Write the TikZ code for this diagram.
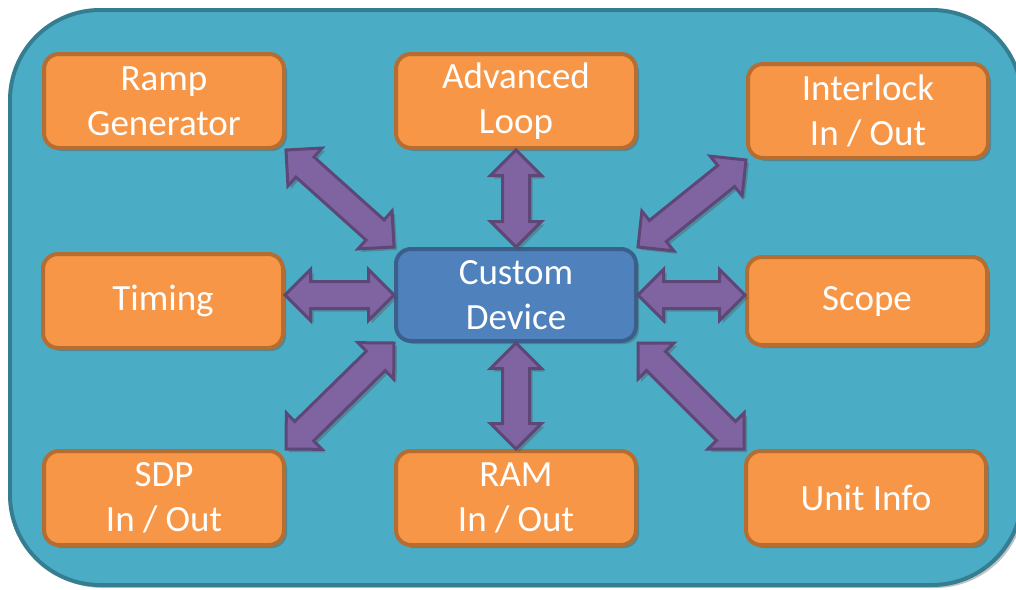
\documentclass[tikz,border=0pt]{standalone}
\usepackage{fontspec}
\setmainfont{Carlito}
\usetikzlibrary{shapes.arrows,shadows,calc}
\definecolor{panel}{HTML}{4BACC6}
\definecolor{panelline}{HTML}{357D91}
\definecolor{boxfill}{HTML}{F79646}
\definecolor{boxline}{HTML}{B66D31}
\definecolor{cdfill}{HTML}{4F81BD}
\definecolor{cdline}{HTML}{3A5F8B}
\definecolor{arrowfill}{HTML}{8064A2}
\definecolor{arrowline}{HTML}{5C4776}
\newcommand{\linkarrow}[2]{%
  \path let \p1=(#1), \p2=(#2),
        \n1={veclen(\x2-\x1,\y2-\y1)}, \n2={atan2(\y2-\y1,\x2-\x1)} in
        node[link, minimum height=\n1, rotate=\n2] at ($(#1)!0.5!(#2)$) {};}

\begin{document}
\begin{tikzpicture}[x=1pt, y=-1pt,
 soft/.style = {drop shadow={shadow xshift=3pt, shadow yshift=-3pt,
      opacity=0.35, fill=black!70}},
 box/.style = {rectangle, rounded corners=15pt, draw=boxline, fill=boxfill,
      line width=4pt, text=white, align=center, soft,
      minimum width=240pt, minimum height=94pt,
      font=\fontsize{37}{45}\selectfont},
 core/.style = {box, draw=cdline, fill=cdfill, minimum height=92pt},
 link/.style = {double arrow, draw=arrowline, fill=arrowfill, line width=3pt,
      inner xsep=0pt, inner ysep=12pt, minimum width=0pt,
      double arrow head extend=12pt, soft}
                    ]
\useasboundingbox (0,0) rectangle (1016,589);
\draw[panelline, fill=panel, line width=4pt, rounded corners=90pt, soft]
      (10,10) rectangle (1022,585);
%
\node(ramp)   [box] at (164, 101) {Ramp\\Generator};
\node(loop)   [box] at (516, 101) {Advanced\\Loop};
\node(inter)  [box] at (868, 111) {Interlock\\In / Out};
\node(timing) [box] at (163, 301) {Timing};
\node(cd)     [core] at (516, 295) {Custom\\Device};
\node(scope)  [box, minimum height=88pt] at (867, 301) {Scope};
\node(sdp)    [box] at (164, 498) {SDP\\In / Out};
\node(ram)    [box] at (516, 498) {RAM\\In / Out};
\node(unit)   [box] at (866, 498) {Unit Info};
%
\linkarrow{ramp.south east}{cd.north west}
\linkarrow{loop.south}{cd.north}
\linkarrow{inter.south west}{cd.north east}
\linkarrow{timing.east |- cd.west}{cd.west}
\linkarrow{cd.east}{scope.west |- cd.east}
\linkarrow{sdp.north east}{cd.south west}
\linkarrow{cd.south}{ram.north}
\linkarrow{cd.south east}{unit.north west}
\end{tikzpicture}
\end{document}
